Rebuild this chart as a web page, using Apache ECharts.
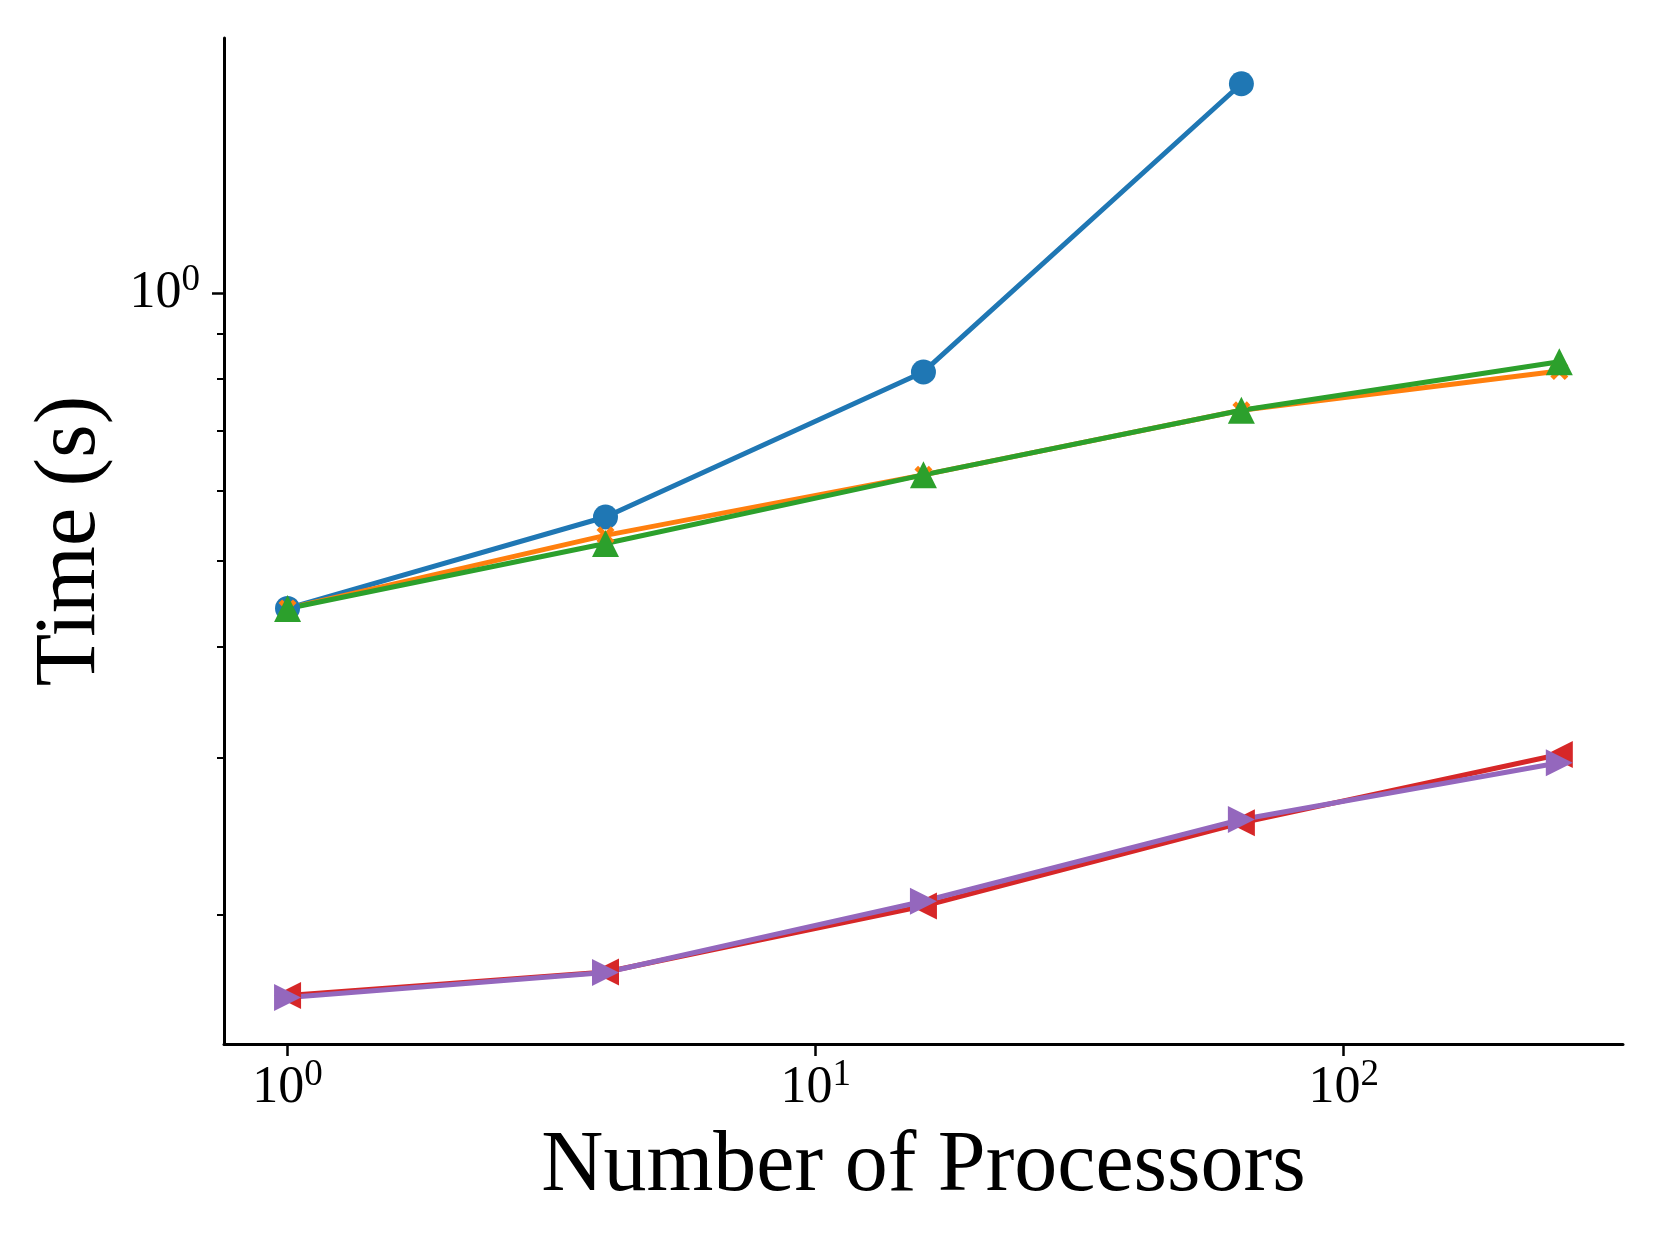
<!DOCTYPE html>
<html>
<head>
<meta charset="utf-8">
<script src="https://cdn.jsdelivr.net/npm/echarts@6/dist/echarts.min.js"></script>
<style>
html,body{margin:0;padding:0;background:#fff;}
#chart{width:1660px;height:1245px;}
</style>
</head>
<body>
<div id="chart"></div>
<script>
// Data
const processors = [1, 4, 16, 64, 256];
const seriesBlue = [0.442, 0.560, 0.815, 1.718];
const seriesOrange = [0.442, 0.534, 0.6245, 0.738, 0.817];
const seriesGreen = [0.442, 0.5228, 0.6245, 0.738, 0.837];
const seriesRed = [0.1624, 0.1725, 0.2046, 0.2538, 0.3029];
const seriesPurple = [0.1615, 0.1723, 0.2072, 0.2560, 0.2965];
const xMajorTicks = [1, 10, 100];
const xTickExponents = ['0', '1', '2'];
const yMajorTicks = [1];
const yTickExponents = ['0'];
const yMinorTicks = [0.2, 0.3, 0.4, 0.5, 0.6, 0.7, 0.8, 0.9];
const xLabel = 'Number of Processors';
const yLabel = 'Time (s)';

const FONT = "'Liberation Serif', 'DejaVu Serif', serif";

function pairs(xs, ys) { return ys.map((v, i) => [xs[i], v]); }

function expLabel(ticks, exps) {
  return function (val) {
    for (let i = 0; i < ticks.length; i++) {
      if (Math.abs(val - ticks[i]) / ticks[i] < 1e-6) return '{base|10}{sup|' + exps[i] + '}';
    }
    return '';
  };
}
const richStyle = {
  base: { fontFamily: FONT, fontSize: 52, color: '#000', lineHeight: 52, verticalAlign: 'bottom' },
  sup: { fontFamily: FONT, fontSize: 37, color: '#000', lineHeight: 37, padding: [0, 0, 20, 0], verticalAlign: 'bottom' }
};

const chart = echarts.init(document.getElementById('chart'), null, { renderer: 'canvas' });

const lineW = 5;
function mkSeries(name, data, color, symbol, size, rotate) {
  return {
    name: name, type: 'line', data: data,
    xAxisIndex: 0, yAxisIndex: 0,
    symbol: symbol, symbolSize: size, symbolRotate: rotate || 0,
    showSymbol: true,
    lineStyle: { color: color, width: lineW },
    itemStyle: { color: color, borderWidth: 0 },
    emphasis: { disabled: true },
    animation: false
  };
}

const xPath = 'path://M2,0 L5,3 L8,0 L10,2 L7,5 L10,8 L8,10 L5,7 L2,10 L0,8 L3,5 L0,2 Z';

const labelBase = { fontFamily: FONT, fontSize: 52, color: '#000' };

chart.setOption({
  backgroundColor: '#fff',
  animation: false,
  grid: { left: 224, right: 37, top: 38, bottom: 201, containLabel: false },
  xAxis: [{
    type: 'log', logBase: 10, min: 0.758, max: 337.9,
    name: xLabel, nameLocation: 'middle', nameGap: 80,
    nameTextStyle: { fontFamily: FONT, fontSize: 86, color: '#000' },
    axisLine: { show: true, onZero: false, lineStyle: { color: '#000', width: 3 } },
    axisTick: { show: true, customValues: xMajorTicks, length: 12, lineStyle: { color: '#000', width: 2.5 } },
    axisLabel: Object.assign({ show: true, customValues: xMajorTicks, margin: 18, formatter: expLabel(xMajorTicks, xTickExponents), rich: richStyle }, labelBase),
    splitLine: { show: false }, minorTick: { show: false }
  }],
  yAxis: [{
    type: 'log', logBase: 10, min: 0.1432, max: 1.934,
    name: yLabel, nameLocation: 'middle', nameGap: 110,
    nameTextStyle: { fontFamily: FONT, fontSize: 86, color: '#000' },
    axisLine: { show: true, onZero: false, lineStyle: { color: '#000', width: 3 } },
    axisTick: { show: true, customValues: yMajorTicks, length: 12, lineStyle: { color: '#000', width: 2.5 } },
    axisLabel: Object.assign({ show: true, customValues: yMajorTicks, margin: 24, formatter: expLabel(yMajorTicks, yTickExponents), rich: richStyle }, labelBase),
    splitLine: { show: false }, minorTick: { show: false }
  }, {
    type: 'log', logBase: 10, min: 0.1432, max: 1.934, position: 'left',
    axisLine: { show: false },
    axisTick: { show: true, customValues: yMinorTicks, length: 7, lineStyle: { color: '#000', width: 2 } },
    axisLabel: { show: false },
    splitLine: { show: false }
  }],
  series: [
    mkSeries('s1', pairs(processors, seriesBlue), '#1f77b4', 'circle', 25),
    mkSeries('s2', pairs(processors, seriesOrange), '#ff7f0e', xPath, 18),
    mkSeries('s3', pairs(processors, seriesGreen), '#2ca02c', 'triangle', 27),
    mkSeries('s4', pairs(processors, seriesRed), '#d62728', 'triangle', 27, 90),
    mkSeries('s5', pairs(processors, seriesPurple), '#9467bd', 'triangle', 27, -90)
  ]
});
</script>
</body>
</html>
